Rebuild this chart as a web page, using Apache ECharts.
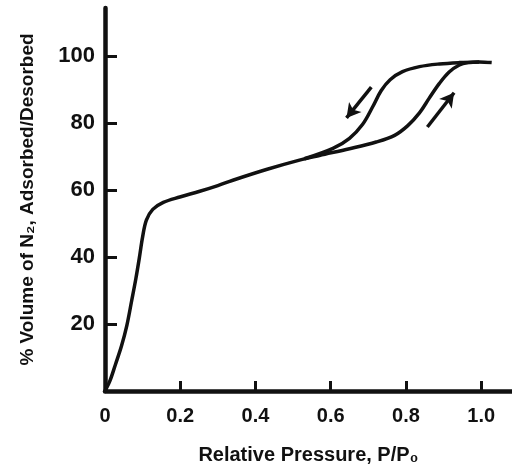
<!DOCTYPE html>
<html>
<head>
<meta charset="utf-8">
<style>
  html, body { margin: 0; padding: 0; background: #fff; }
  #chart { width: 512px; height: 472px; }
</style>
<script src="https://cdn.jsdelivr.net/npm/echarts@6/dist/echarts.min.js"></script>
</head>
<body>
<div id="chart"></div>
<script>
// Adsorption branch (relative pressure, % volume adsorbed)
const adsorption = [
  [0, 0], [0.013, 3.0], [0.028, 8.0], [0.044, 13.5], [0.058, 19.5], [0.071, 27.0],
  [0.082, 33.5], [0.091, 39.5], [0.100, 46.0], [0.110, 51.0], [0.127, 54.2],
  [0.155, 56.3], [0.199, 57.9], [0.252, 59.6], [0.300, 61.3], [0.340, 62.9],
  [0.429, 66.1], [0.517, 68.9], [0.570, 70.3], [0.650, 72.3], [0.721, 74.3],
  [0.770, 76.3], [0.805, 79.2], [0.836, 83.0], [0.862, 87.4], [0.889, 91.8],
  [0.915, 95.2], [0.942, 97.3], [0.965, 98.0], [0.995, 98.2], [1.028, 98.0]
];
// Desorption branch (upper limb of the hysteresis loop)
const desorption = [
  [0.530, 69.3], [0.606, 72.4], [0.650, 75.4], [0.685, 79.6], [0.712, 84.9],
  [0.734, 89.6], [0.758, 92.9], [0.791, 95.3], [0.836, 96.8], [0.889, 97.6],
  [0.942, 98.0], [0.995, 98.2]
];
// Direction arrows: [from, to]
const arrowDesorb = [[0.708, 90.7], [0.642, 81.5]];
const arrowAdsorb = [[0.857, 78.8], [0.928, 89.0]];

const xTicks = [0.2, 0.4, 0.6, 0.8, 1.0];
const xLabels = [0, 0.2, 0.4, 0.6, 0.8, 1.0];
const yTicks = [20, 40, 60, 80, 100];

const xTitle = 'Relative Pressure, P/P\u2080';
const yTitle = '% Volume of N\u2082, Adsorbed/Desorbed';

const ink = '#111';
const font = '"Liberation Sans", Arial, "DejaVu Sans", sans-serif';

const chart = echarts.init(document.getElementById('chart'));
chart.setOption({
  animation: false,
  backgroundColor: '#fff',
  grid: { left: 105, right: 0, top: 8, bottom: 81, containLabel: false },
  xAxis: {
    type: 'value', min: 0, max: 1.082,
    name: xTitle, nameLocation: 'middle', nameGap: 54,
    nameTextStyle: { fontFamily: font, fontWeight: 'bold', fontSize: 20, color: ink },
    axisLine: { show: true, lineStyle: { color: ink, width: 4.5 } },
    axisTick: { show: true, inside: true, length: 10, lineStyle: { color: ink, width: 3 }, customValues: xTicks },
    axisLabel: {
      show: true, margin: 15, customValues: xLabels,
      fontFamily: font, fontWeight: 'bold', fontSize: 20, color: ink,
      formatter: v => (Math.abs(v) < 1e-9 ? '0' : Number(v).toFixed(1))
    },
    splitLine: { show: false }
  },
  yAxis: {
    type: 'value', min: 0, max: 114.3,
    name: yTitle, nameLocation: 'middle', nameGap: 68, nameRotate: 90,
    nameTextStyle: { fontFamily: font, fontWeight: 'bold', fontSize: 19, color: ink },
    axisLine: { show: true, lineStyle: { color: ink, width: 4.5 } },
    axisTick: { show: true, inside: true, length: 12, lineStyle: { color: ink, width: 3 }, customValues: yTicks },
    axisLabel: {
      show: true, margin: 10, customValues: yTicks,
      fontFamily: font, fontWeight: 'bold', fontSize: 22, color: ink
    },
    splitLine: { show: false }
  },
  series: [
    {
      type: 'line', data: adsorption, showSymbol: false, symbol: 'none',
      smooth: 0.35,
      lineStyle: { color: ink, width: 3.5 },
      markLine: {
        silent: true, symbol: ['none', 'arrow'], symbolSize: [12, 14],
        label: { show: false },
        lineStyle: { color: ink, width: 3.5, type: 'solid' },
        data: [
          [{ coord: arrowDesorb[0] }, { coord: arrowDesorb[1] }],
          [{ coord: arrowAdsorb[0] }, { coord: arrowAdsorb[1] }]
        ]
      }
    },
    {
      type: 'line', data: desorption, showSymbol: false, symbol: 'none',
      smooth: 0.35,
      lineStyle: { color: ink, width: 3.5 }
    }
  ]
});
</script>
</body>
</html>
